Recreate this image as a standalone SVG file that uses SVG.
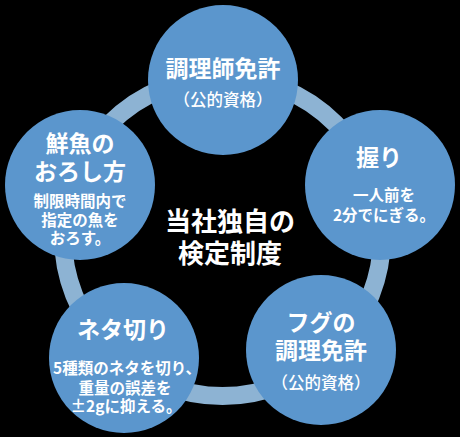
<svg xmlns="http://www.w3.org/2000/svg" width="460" height="437" viewBox="0 0 460 437">
<style>
.bg{fill:#000}
.ring{fill:none;stroke:#8DB3D3;stroke-width:18}
.node{fill:#5B96CD}
text{fill:#fff;font-family:"Noto Sans CJK JP","Noto Sans CJK SC",sans-serif;font-weight:bold;text-anchor:middle;dominant-baseline:central}
.t{font-size:23px}
.s{font-size:16.5px;font-weight:500}
.b{font-size:15.5px}
.c{font-size:26px}
</style>
<rect class="bg" x="0" y="0" width="460" height="437"/>
<g id="connectors">
<circle class="ring" cx="222.5" cy="236.5" r="159.5"/>
</g>
<g id="node-chouri">
<circle class="node" cx="223" cy="80" r="75"/>
<text class="t" x="223" y="67">調理師免許</text>
<text class="s" x="223" y="99">（公的資格）</text>
</g>
<g id="node-nigiri">
<circle class="node" cx="380" cy="185" r="75"/>
<text class="t" x="379" y="156">握り</text>
<text class="b" x="384" y="194">一人前を</text>
<text class="b" x="384" y="214">2分でにぎる。</text>
</g>
<g id="node-fugu">
<circle class="node" cx="321" cy="350" r="75"/>
<text class="t" x="321" y="321">フグの</text>
<text class="t" x="321" y="349">調理免許</text>
<text class="s" x="321" y="382">（公的資格）</text>
</g>
<g id="node-neta">
<circle class="node" cx="124" cy="358" r="75"/>
<text class="t" x="123" y="328">ネタ切り</text>
<text class="b" x="127" y="367">5種類のネタを切り、</text>
<text class="b" x="125" y="387">重量の誤差を</text>
<text class="b" x="126" y="405">±2gに抑える。</text>
</g>
<g id="node-sengyo">
<circle class="node" cx="80" cy="185" r="75"/>
<text class="t" x="80" y="142">鮮魚の</text>
<text class="t" x="80" y="170">おろし方</text>
<text class="b" x="80" y="200">制限時間内で</text>
<text class="b" x="80" y="219">指定の魚を</text>
<text class="b" x="80" y="237">おろす。</text>
</g>
<g id="center">
<text class="c" x="230" y="219">当社独自の</text>
<text class="c" x="230" y="251">検定制度</text>
</g>
</svg>
